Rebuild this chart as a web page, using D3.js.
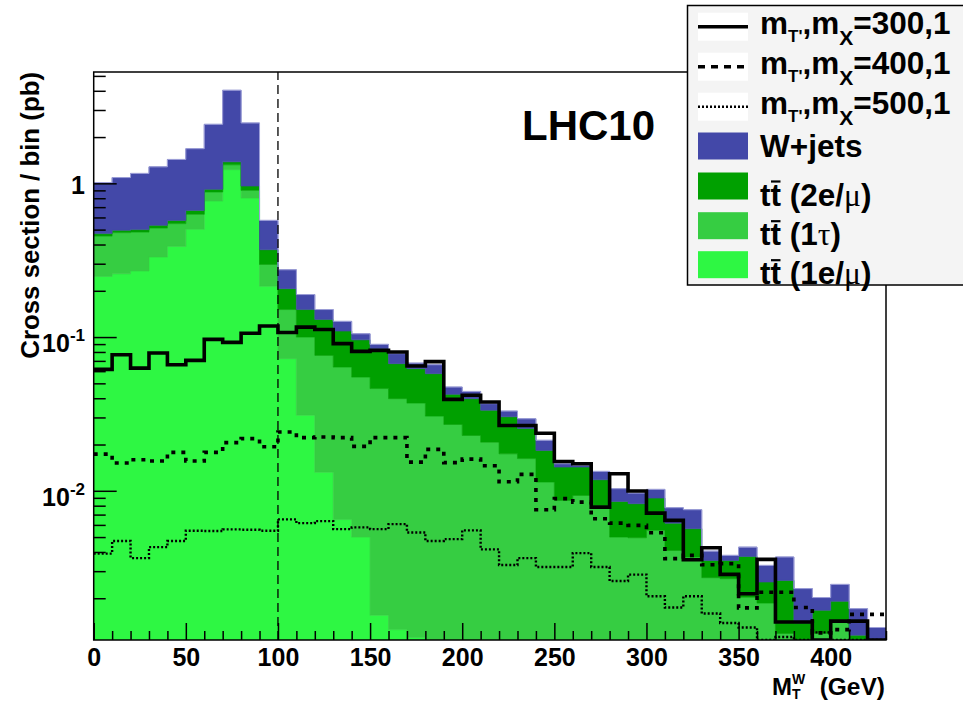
<!DOCTYPE html>
<html>
<head>
<meta charset="utf-8">
<script src="https://cdn.jsdelivr.net/npm/d3@7"></script>
<style>
  html, body { margin: 0; padding: 0; background: #fff; }
  svg { display: block; font-family: "Liberation Sans", Arial, Helvetica, sans-serif; font-weight: bold; }
</style>
</head>
<body>
<svg width="963" height="702"></svg>
<script>
// bins: 10 GeV wide, 0 - 430 GeV
const binLow = d3.range(0, 430, 10);
const binWidth = 10;

// stacked backgrounds (pb / bin), bottom -> top
const ttLep = [0.248, 0.258, 0.269, 0.332, 0.389, 0.502, 0.767, 1.228, 0.802, 0.214,
  0.0724, 0.031, 0.0132, 0.0065, 0.0050, 0.00155, 0.00125, 0.00111, 0, 0,
  0, 0, 0, 0, 0, 0, 0, 0, 0, 0,
  0, 0, 0, 0, 0, 0, 0, 0, 0, 0,
  0, 0, 0];
const ttTau = [0.206, 0.220, 0.213, 0.180, 0.158, 0.127, 0.111, 0.092, 0.098, 0.083,
  0.0786, 0.069, 0.0628, 0.0573, 0.0499, 0.0447, 0.0385, 0.0361, 0.0306, 0.0270,
  0.0229, 0.0207, 0.0174, 0.0162, 0.0114, 0.00866, 0.00933, 0.00804, 0.00500, 0.00495,
  0.00553, 0.00409, 0.00371, 0.00272, 0.00268, 0.00203, 0.00186, 0.00118, 0, 0.00118,
  0.00140, 0, 0];
const ttDilep = [0.017, 0.017, 0.018, 0.021, 0.027, 0.038, 0.036, 0.06, 0.06, 0.073,
  0.0555, 0.051, 0.0543, 0.0456, 0.041, 0.0378, 0.0274, 0.0251, 0.0272, 0.0154,
  0.0168, 0.0127, 0.0129, 0.0092, 0.0069, 0.0056, 0.00493, 0.00376, 0.00353, 0.00329,
  0.00343, 0.00207, 0.00196, 0.00080, 0.00084, 0.00171, 0.00069, 0.00143, 0.00138, 0.00049,
  0.00051, 0.00115, 0];
const wjets = [0.539, 0.595, 0.660, 0.747, 0.856, 1.013, 1.506, 2.65, 1.51, 0.204,
  0.0675, 0.038, 0.0207, 0.0171, 0.0091, 0.0056, 0.0109, 0.0054, 0.0083, 0.0049,
  0.0046, 0.0035, 0.0027, 0.0040, 0.0030, 0.00074, 0.00037, 0.00157, 0.00179, 0.00142,
  0.00125, 0.00160, 0.00186, 0.00053, 0.00028, 0.00056, 0.00072, 0.00110, 0.00093, 0.00035,
  0.00055, 0.00056, 0.00129];

// signal histograms
const sig300 = [0.0616, 0.0768, 0.0628, 0.0787, 0.0661, 0.0705, 0.0966, 0.0923, 0.106, 0.118,
  0.107, 0.116, 0.112, 0.0906, 0.0807, 0.0819, 0.0799, 0.0648, 0.0692, 0.0393,
  0.0418, 0.0378, 0.0266, 0.0266, 0.0237, 0.0155, 0.0150, 0.00783, 0.0129, 0.00996,
  0.00716, 0.00642, 0.00356, 0.00426, 0.00286, 0.00214, 0.00358, 0.00140, 0.00140, 0.0009,
  0.00142, 0.00142, 0.0009];
const sig400 = [0.01733, 0.01515, 0.01593, 0.01561, 0.01778, 0.01561, 0.01778, 0.02056, 0.02183, 0.01936,
  0.0241, 0.02216, 0.02236, 0.02216, 0.01945, 0.02216, 0.02216, 0.01537, 0.01860, 0.01524,
  0.01607, 0.01456, 0.01146, 0.01278, 0.00753, 0.00889, 0.00844, 0.00658, 0.00616, 0.00596,
  0.00534, 0.00362, 0.00380, 0.00330, 0.00336, 0.00173, 0.00219, 0.00219, 0.00174, 0.00119,
  0.00125, 0.00157, 0.00157];
const sig500 = [0.00390, 0.00471, 0.00365, 0.00430, 0.00471, 0.00550, 0.00547, 0.00561, 0.00558, 0.00550,
  0.00652, 0.00616, 0.00635, 0.00563, 0.00578, 0.00563, 0.00607, 0.00536, 0.00471, 0.00485,
  0.00553, 0.00416, 0.00329, 0.00365, 0.00319, 0.00319, 0.00393, 0.00319, 0.00259, 0.00285,
  0.00206, 0.00174, 0.00206, 0.00159, 0.00138, 0.00129, 0.00107, 0.00112, 0.00106, 0.00120,
  0.00107, 0.00107, 0.00107];

const xTicks = [0, 50, 100, 150, 200, 250, 300, 350, 400];
const yTicks = [1e-2, 1e-1, 1];
const cutValue = 100;

const bgKeys = ["ttLep", "ttTau", "ttDilep", "wjets"];
const bgColor = { ttLep: "#2ef743", ttTau: "#36cd42", ttDilep: "#00a000", wjets: "#4348a8" };

const svg = d3.select("svg");
const L = 93.7, R = 886, T = 72, B = 640;

const x = d3.scaleLinear().domain([0, 430]).range([L, R]);
const y = d3.scaleLog().domain([1.07e-3, 5.3]).range([B, T]).clamp(true);
const yv = v => y(Math.max(v, 1e-6));

svg.append("defs").append("clipPath").attr("id", "plotClip")
  .append("rect").attr("x", L).attr("y", T).attr("width", R - L).attr("height", B - T);

const plot = svg.append("g").attr("clip-path", "url(#plotClip)");

// stacked histograms
const rows = binLow.map((lo, i) => ({
  lo, ttLep: ttLep[i], ttTau: ttTau[i], ttDilep: ttDilep[i], wjets: wjets[i]
}));
const stacked = d3.stack().keys(bgKeys)(rows);

function stepPoints(vals0, vals1) {
  const pts = [];
  binLow.forEach((lo, i) => {
    pts.push({ x: lo, y0: vals0[i], y1: vals1[i] });
    pts.push({ x: lo + binWidth, y0: vals0[i], y1: vals1[i] });
  });
  return pts;
}

const area = d3.area().x(p => x(p.x)).y0(p => yv(p.y0)).y1(p => yv(p.y1));
stacked.forEach(layer => {
  const pts = stepPoints(layer.map(d => d[0]), layer.map(d => d[1]));
  plot.append("path").attr("d", area(pts))
    .attr("fill", bgColor[layer.key])
    .attr("stroke", bgColor[layer.key]).attr("stroke-width", 0.6);
});

// light outline on top of the stack
const topLayer = stacked[stacked.length - 1];
const stepLine = d3.line().x(p => x(p.x)).y(p => yv(p.y1));
plot.append("path")
  .attr("d", stepLine(stepPoints(topLayer.map(d => d[1]), topLayer.map(d => d[1]))))
  .attr("fill", "none").attr("stroke", "#9d9fd8").attr("stroke-width", 1);

// signal lines
const sigStyle = [
  { vals: sig300, dash: null, legDash: null, w: 3.6 },
  { vals: sig400, dash: "4,6", legDash: "7,6", w: 3.6 },
  { vals: sig500, dash: "2,2", legDash: "2,2", w: 2.4 }
];
sigStyle.forEach(s => {
  plot.append("path")
    .attr("d", stepLine(stepPoints(s.vals, s.vals)))
    .attr("fill", "none").attr("stroke", "#000")
    .attr("stroke-width", s.w)
    .attr("stroke-dasharray", s.dash);
});

// cut line
svg.append("line")
  .attr("x1", x(cutValue)).attr("x2", x(cutValue))
  .attr("y1", B).attr("y2", T)
  .attr("stroke", "#000").attr("stroke-width", 1.3)
  .attr("stroke-dasharray", "9,5");

// frame
svg.append("rect").attr("x", L).attr("y", T).attr("width", R - L).attr("height", B - T)
  .attr("fill", "none").attr("stroke", "#000").attr("stroke-width", 1.5);

// x axis
const xMinor = d3.range(0, 431, 10).filter(v => v % 50 !== 0);
svg.append("g").attr("transform", `translate(0,${B})`)
  .call(d3.axisBottom(x).tickValues(xMinor).tickSize(-9).tickFormat(""))
  .call(g => g.select(".domain").remove());
const xAx = svg.append("g").attr("transform", `translate(0,${B})`)
  .call(d3.axisBottom(x).tickValues(xTicks).tickSize(-17).tickFormat(d3.format("d")))
  .call(g => g.select(".domain").remove());
xAx.selectAll("text").attr("y", 26).attr("dy", null)
  .attr("font-size", 25).attr("font-weight", "bold")
  .attr("font-family", "Liberation Sans, Arial, sans-serif").attr("fill", "#000");
svg.selectAll(".tick line").attr("stroke-width", 1.5);

// y axis
const yMinor = [];
[1e-3, 1e-2, 1e-1, 1].forEach(dec => d3.range(2, 10).forEach(k => {
  const v = k * dec;
  if (v > 1.07e-3 && v < 5.3) yMinor.push(v);
}));
svg.append("g").attr("transform", `translate(${L},0)`)
  .call(d3.axisLeft(y).tickValues(yMinor).tickSize(-12).tickFormat(""))
  .call(g => g.select(".domain").remove())
  .selectAll("line").attr("stroke-width", 1.5);
svg.append("g").attr("transform", `translate(${L},0)`)
  .call(d3.axisLeft(y).tickValues(yTicks).tickSize(-23).tickFormat(""))
  .call(g => g.select(".domain").remove())
  .selectAll("line").attr("stroke-width", 1.5);

const yLab = svg.append("g").attr("font-size", 25).attr("text-anchor", "end");
yTicks.forEach(v => {
  const e = Math.round(Math.log10(v));
  if (e === 0) {
    yLab.append("text").attr("x", 85).attr("y", y(v) + 11).text("1");
  } else {
    const t = yLab.append("text").attr("x", 85).attr("y", y(v) + 15);
    t.append("tspan").text("10");
    t.append("tspan").attr("font-size", 17).attr("dy", -11).text(String(e));
  }
});

// axis titles
svg.append("text").attr("transform", `translate(39,${T}) rotate(-90)`)
  .attr("text-anchor", "end").attr("font-size", 25.8).text("Cross section / bin (pb)");

svg.append("text").attr("x", 772).attr("y", 695).attr("font-size", 24).text("M");
svg.append("text").attr("x", 792).attr("y", 684).attr("font-size", 14).text("W");
svg.append("text").attr("x", 792).attr("y", 699).attr("font-size", 14).text("T");
svg.append("text").attr("x", 885).attr("y", 695).attr("text-anchor", "end")
  .attr("font-size", 24.5).text("(GeV)");

svg.append("text").attr("x", 522).attr("y", 140).attr("font-size", 42).text("LHC10");

// legend
const leg = svg.append("g");
leg.append("rect").attr("x", 687.5).attr("y", 5.5).attr("width", 300).attr("height", 279.5)
  .attr("fill", "#f4f4f4").attr("stroke", "#000").attr("stroke-width", 1.5);

const legSize = 31.5;
function richText(xp, base, parts) {
  const t = leg.append("text").attr("x", xp).attr("y", base);
  parts.forEach(p => {
    const s = t.append("tspan").attr("y", base + (p.dy || 0))
      .attr("font-size", p.size || legSize).text(p.t);
    if (p.serif) s.attr("font-family", "Liberation Serif, Times New Roman, serif").attr("font-weight", "normal");
  });
  return t;
}

const sigLabels = ["300,1", "400,1", "500,1"];
sigStyle.forEach((s, i) => {
  const cy = 26.7 + 40 * i;
  leg.append("rect").attr("x", 698).attr("y", cy - 14).attr("width", 50).attr("height", 28).attr("fill", "#fff");
  leg.append("line").attr("x1", 698).attr("x2", 748).attr("y1", cy).attr("y2", cy)
    .attr("stroke", "#000").attr("stroke-width", s.w).attr("stroke-dasharray", s.legDash);
  richText(760, cy + 7, [
    { t: "m" }, { t: "T'", size: 17, dy: 8 }, { t: "," }, { t: "m" },
    { t: "X", size: 21, dy: 11.5 }, { t: "=" + sigLabels[i] }
  ]);
});

const bgLegend = [
  { key: "wjets", cy: 146, parts: [{ t: "W+jets" }], tt: false },
  { key: "ttDilep", cy: 186, parts: [{ t: "tt" }, { t: " (2e/" }, { t: "μ", serif: true }, { t: ")" }], tt: true },
  { key: "ttTau", cy: 225.7, parts: [{ t: "tt" }, { t: " (1" }, { t: "τ", serif: true }, { t: ")" }], tt: true },
  { key: "ttLep", cy: 264.7, parts: [{ t: "tt" }, { t: " (1e/" }, { t: "μ", serif: true }, { t: ")" }], tt: true }
];
bgLegend.forEach(e => {
  leg.append("rect").attr("x", 698).attr("y", e.cy - 13.5).attr("width", 50).attr("height", 27)
    .attr("fill", bgColor[e.key]);
  const base = e.tt ? e.cy + 19.5 : e.cy + 11;
  const t = richText(760, base, e.parts);
  if (e.tt) {
    const w = t.select("tspan").node().getComputedTextLength();
    leg.append("line").attr("x1", 760 + w / 2 + 0.5).attr("x2", 760 + w - 0.5)
      .attr("y1", base - 24).attr("y2", base - 24)
      .attr("stroke", "#000").attr("stroke-width", 2.2);
  }
});
</script>
</body>
</html>
